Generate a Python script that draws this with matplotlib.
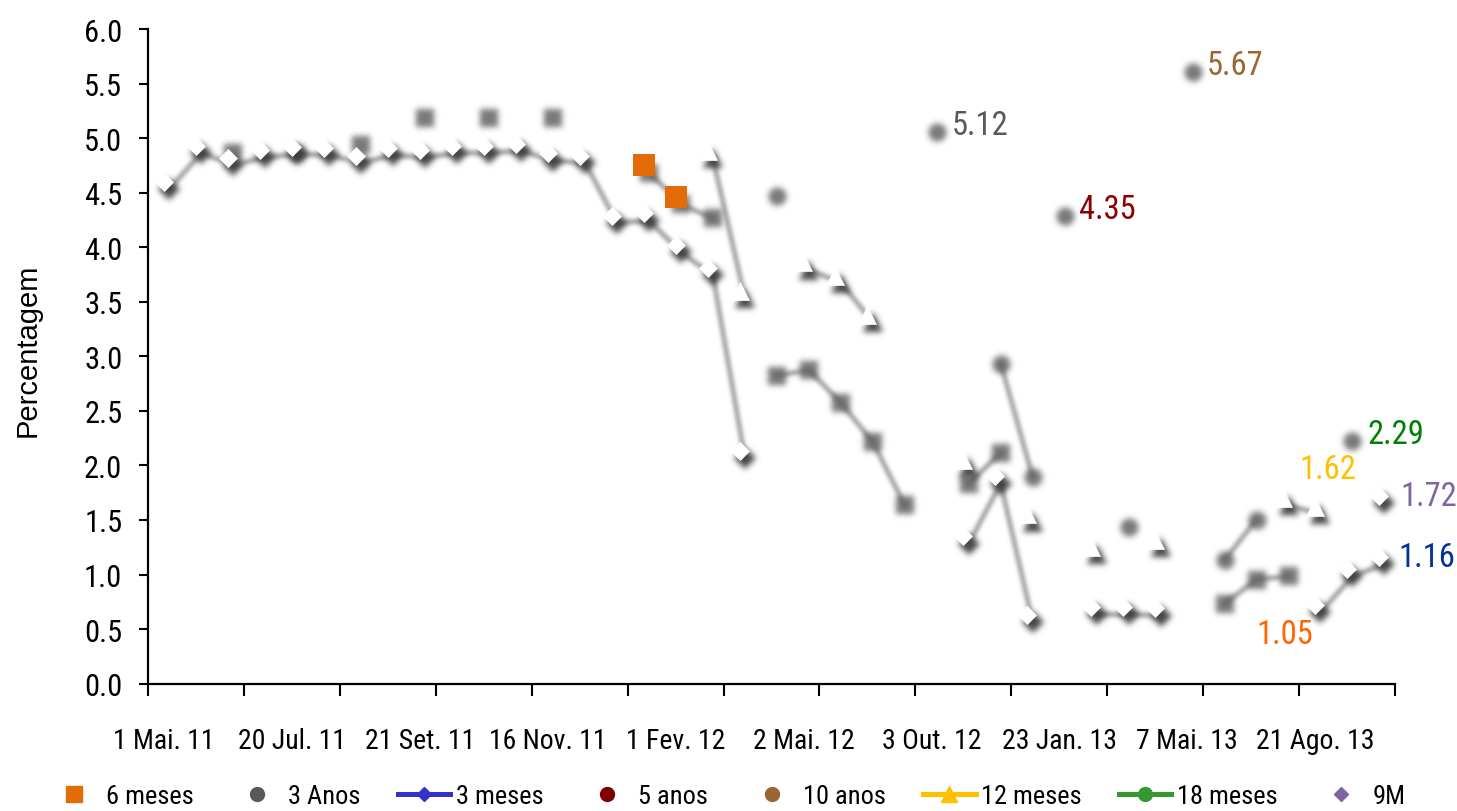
import numpy as np
import matplotlib
matplotlib.use("Agg")
import matplotlib.pyplot as plt
from matplotlib import font_manager, transforms
from matplotlib.lines import Line2D

nan = np.nan

# ---------------------------------------------------------------- data
n_obs = 39
date_labels = ['1 Mai. 11', '20 Jul. 11', '21 Set. 11', '16 Nov. 11', '1 Fev. 12',
               '2 Mai. 12', '3 Out. 12', '23 Jan. 13', '7 Mai. 13', '21 Ago. 13']
label_step = 4
tick_step = 3

meses6_idx = [2, 6, 8, 10, 12, 15, 16, 17, 19, 20, 21, 22, 23, 25, 26, 33, 34, 35]
meses6_val = [4.93, 5.00, 5.25, 5.25, 5.25, 4.75, 4.46, 4.33, 2.89, 2.94, 2.64,
              2.28, 1.70, 1.90, 2.18, 0.80, 1.02, 1.05]
meses6_highlight = [15, 16]

anos3_idx = [4, 19, 24]
anos3_val = [4.93, 4.54, 5.12]

meses3_idx = list(range(19)) + [25, 26, 27, 29, 30, 31, 36, 37, 38]
meses3_val = [4.60, 4.93, 4.82, 4.89, 4.92, 4.91, 4.84, 4.91, 4.89, 4.93, 4.93,
              4.95, 4.86, 4.84, 4.29, 4.31, 4.02, 3.81, 2.13,
              1.35, 1.90, 0.63, 0.70, 0.70, 0.69, 0.72, 1.05, 1.16]

anos5_idx = [28]
anos5_val = [4.35]

anos10_idx = [32]
anos10_val = [5.67]

meses12_idx = [17, 18, 20, 21, 22, 25, 27, 29, 31, 35, 36]
meses12_val = [4.88, 3.60, 3.86, 3.74, 3.38, 2.05, 1.55, 1.25, 1.32, 1.70, 1.62]

meses18_idx = [26, 27, 30, 33, 34, 37]
meses18_val = [3.00, 1.96, 1.50, 1.20, 1.57, 2.29]

m9_idx = [38]
m9_val = [1.72]

# ---------------------------------------------------------------- fonts
_names = {f.name for f in font_manager.fontManager.ttflist}
_narrow = [n for n in ('Roboto Condensed', 'PT Sans Narrow', 'Archivo Narrow') if n in _names]
NARROW = _narrow[:1] + ['Liberation Sans', 'DejaVu Sans']
REGULAR = ['Liberation Sans', 'DejaVu Sans']
plt.rcParams['font.family'] = NARROW


# ---------------------------------------------------------------- soft shadow filter
def _gauss(a, s):
    r = int(3 * s) + 1
    k = np.exp(-0.5 * (np.arange(-r, r + 1) / s) ** 2)
    k /= k.sum()
    p = np.pad(a, r)
    H, W = a.shape
    h = sum(k[j] * p[:, j:j + W] for j in range(2 * r + 1))
    return sum(k[j] * h[j:j + H, :] for j in range(2 * r + 1))


class SoftShadow:
    def __init__(self, sigma_px, color, alpha):
        self.sigma = sigma_px
        self.color = color
        self.alpha = alpha

    def __call__(self, im, dpi):
        s = self.sigma * dpi / 100.0
        pad = int(3 * s) + 2
        a = np.pad(im[..., 3], pad)
        b = _gauss(a, s)
        out = np.empty(b.shape + (4,))
        out[..., :3] = self.color
        out[..., 3] = np.clip(b * self.alpha, 0, 1)
        return out, -pad, -pad


def full(idx, val):
    y = np.full(n_obs, nan)
    y[idx] = val
    return y


# ---------------------------------------------------------------- figure
W, H, DPI = 1457, 812, 100
fig = plt.figure(figsize=(W / DPI, H / DPI), dpi=DPI)
ax = fig.add_axes([148 / W, 1 - 684.6 / H, (1395 - 148) / W, (684.6 - 30) / H])

x = np.arange(n_obs)
shadow_tr = transforms.offset_copy(ax.transData, fig=fig, x=3.9, y=-5.2, units='points')

series = [
    # idx, val, marker, size, has white face
    (meses6_idx, meses6_val, 's', 13.5, False),
    (anos3_idx, anos3_val, 'o', 13, False),
    (meses3_idx, meses3_val, 'D', 9.5, True),
    (anos5_idx, anos5_val, 'o', 13, False),
    (anos10_idx, anos10_val, 'o', 13, False),
    (meses12_idx, meses12_val, '^', 13, True),
    (meses18_idx, meses18_val, 'o', 13, False),
    (m9_idx, m9_val, 'D', 9.5, True),
]

# connecting lines (soft grey)
for idx, val, mk, ms, face in series:
    ln, = ax.plot(x, full(idx, val), color='k', lw=3.6, transform=shadow_tr,
                  solid_capstyle='round', zorder=2)
    ln.set_agg_filter(SoftShadow(1.9, (0.40, 0.40, 0.40), 0.6))

# marker shadows
for idx, val, mk, ms, face in series:
    if face:
        col, a, grow = (0.22, 0.22, 0.22), 0.92, 1.5
    else:
        col, a, grow = (0.38, 0.38, 0.38), 0.85, 0.0
    mkr, = ax.plot(x, full(idx, val), ls='none', marker=mk, ms=ms + grow, mfc='k',
                   mec='k', mew=0, transform=shadow_tr, zorder=3)
    mkr.set_agg_filter(SoftShadow(3.0, col, a))

# white marker faces
for idx, val, mk, ms, face in series:
    if face:
        ax.plot(x, full(idx, val), ls='none', marker=mk, ms=ms, mfc='white',
                mec='white', mew=0.5, zorder=4)

# highlighted 6-month points
hl_val = [meses6_val[meses6_idx.index(i)] for i in meses6_highlight]
ax.plot(meses6_highlight, hl_val, ls='none', marker='s', ms=15.8, mfc='#E36C09',
        mec='#E36C09', mew=0, zorder=6)

# end-of-series value labels
px = 0.72
end_labels = [
    (anos3_idx, anos3_val, '#595959', 20, 0, 'left'),
    (anos5_idx, anos5_val, '#8B0000', 20, 0, 'left'),
    (anos10_idx, anos10_val, '#9C6630', 20, 0, 'left'),
    (meses18_idx, meses18_val, '#008000', 20, 0, 'left'),
    (m9_idx, m9_val, '#8064A2', 21, 0, 'left'),
    (meses3_idx, meses3_val, '#003399', 19, 0, 'left'),
    (meses12_idx, meses12_val, '#FFC000', 13, 38, 'center'),
    (meses6_idx, meses6_val, '#FF6600', 2, -65, 'center'),
]
for idx, val, col, dx, dy, ha in end_labels:
    ax.annotate(f'{val[-1]:.2f}', xy=(idx[-1], val[-1]), xytext=(dx * px, dy * px),
                textcoords='offset points', ha=ha, va='center', color=col,
                fontsize=23.5, zorder=7)

# ---------------------------------------------------------------- axes styling
ax.set_xlim(-0.5, n_obs - 0.5)
ax.set_ylim(0, 6)
for s in ('top', 'right'):
    ax.spines[s].set_visible(False)
for s in ('left', 'bottom'):
    ax.spines[s].set_linewidth(1.6)
    ax.spines[s].set_color('black')

ax.set_yticks(np.arange(0, 6.01, 0.5))
ax.set_yticklabels([f'{v:.1f}' for v in np.arange(0, 6.01, 0.5)])
ax.tick_params(axis='y', direction='out', length=6.5, width=1.5, pad=12,
               labelsize=22, colors='black')

ax.set_xticks(np.arange(-0.5, n_obs, tick_step))
ax.set_xticklabels([])
ax.set_xticks(np.arange(0, n_obs, label_step), minor=True)
ax.set_xticklabels(date_labels, minor=True)
ax.tick_params(axis='x', which='major', direction='out', length=8.6, width=1.5)
ax.tick_params(axis='x', which='minor', length=0, pad=31, labelsize=20)

fig.text(28 / W, 1 - 350 / H, 'Percentagem', rotation=90, ha='center', va='center',
         fontsize=21, family=REGULAR)

# ---------------------------------------------------------------- legend
handles = [
    Line2D([], [], ls='none', marker='s', ms=11, mfc='#E36C09', mec='#E36C09'),
    Line2D([], [], ls='none', marker='o', ms=10, mfc='#595959', mec='#595959'),
    Line2D([], [], color='#3333CC', lw=3.6, marker='D', ms=7.5, mfc='#3333CC', mec='#3333CC'),
    Line2D([], [], ls='none', marker='o', ms=10, mfc='#800000', mec='#800000'),
    Line2D([], [], ls='none', marker='o', ms=10, mfc='#996633', mec='#996633'),
    Line2D([], [], color='#FFC000', lw=3.6, marker='^', ms=11, mfc='#FFC000', mec='#FFC000'),
    Line2D([], [], color='#339933', lw=3.6, marker='o', ms=10, mfc='#339933', mec='#339933'),
    Line2D([], [], ls='none', marker='D', ms=7.5, mfc='#8064A2', mec='#8064A2'),
]
names = ['6 meses', '3 Anos', '3 meses', '5 anos', '10 anos', '12 meses', '18 meses', '9M']
fig.legend(handles, names, loc='center', bbox_to_anchor=(0.4986, 1 - 797 / H),
           ncol=8, frameon=False, fontsize=19, handlelength=2.0, handletextpad=0.2,
           columnspacing=1.4, borderpad=0, borderaxespad=0)

fig.savefig('out.png', dpi=DPI)
